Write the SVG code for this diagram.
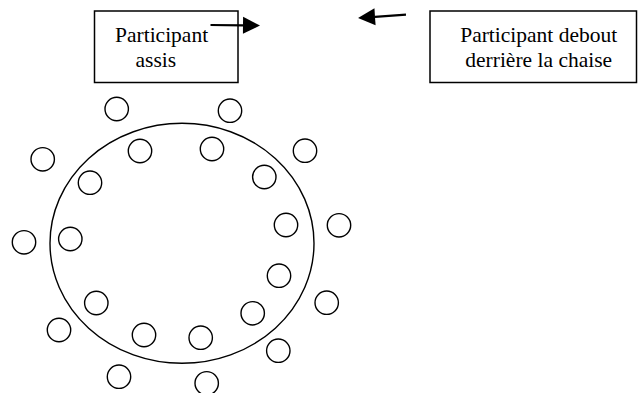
<svg xmlns="http://www.w3.org/2000/svg" width="638" height="393" viewBox="0 0 638 393">
<style>
.box{fill:#fff;stroke:#000;stroke-width:1.5}
text{font-family:"Liberation Serif","Times New Roman",serif;font-size:21.5px;fill:#000}
.c{fill:none;stroke:#000;stroke-width:1.4}
.a{stroke:#000;stroke-width:2.2;fill:none}
</style>
<defs>
<marker id="ah" markerWidth="17" markerHeight="17" refX="0" refY="8.5" orient="auto" markerUnits="userSpaceOnUse" overflow="visible">
<path d="M0,0 L17,8.5 L0,17 Z" fill="#000"/>
</marker>
</defs>
<rect width="638" height="393" fill="#fff"/>
<g id="seated">
<rect class="box" x="94.5" y="11" width="143.5" height="71.5"/>
<text x="115" y="41.5">Participant</text>
<text x="135.5" y="66.5">assis</text>
</g>
<g id="standing">
<rect class="box" x="430" y="11" width="206.5" height="71.5"/>
<text x="538.7" y="41.5" text-anchor="middle">Participant debout</text>
<text x="538.7" y="67" text-anchor="middle">derrière la chaise</text>
</g>
<g id="connectors">
<path class="a" d="M210.5,25 L243,25.3" marker-end="url(#ah)"/>
<path class="a" d="M406,14.7 L375,16.8" marker-end="url(#ah)"/>
</g>
<g id="table">
<ellipse class="c" cx="182" cy="243.3" rx="132" ry="120"/>
</g>
<g id="outer">
<circle class="c" cx="116.7" cy="109" r="11.7"/>
<circle class="c" cx="230" cy="110.7" r="11.7"/>
<circle class="c" cx="42.7" cy="159.3" r="11.7"/>
<circle class="c" cx="305" cy="150.7" r="11.7"/>
<circle class="c" cx="24" cy="242.3" r="11.7"/>
<circle class="c" cx="339" cy="225.3" r="11.7"/>
<circle class="c" cx="326.7" cy="302.7" r="11.7"/>
<circle class="c" cx="59" cy="330" r="11.7"/>
<circle class="c" cx="278.3" cy="350.7" r="11.7"/>
<circle class="c" cx="119" cy="376.7" r="11.7"/>
<circle class="c" cx="206.7" cy="383.3" r="11.7"/>
</g>
<g id="inner">
<circle class="c" cx="140" cy="151" r="11.7"/>
<circle class="c" cx="212" cy="149" r="11.7"/>
<circle class="c" cx="90" cy="182.7" r="11.7"/>
<circle class="c" cx="264.3" cy="177" r="11.7"/>
<circle class="c" cx="286" cy="225" r="11.7"/>
<circle class="c" cx="70.3" cy="239" r="11.7"/>
<circle class="c" cx="279" cy="275.7" r="11.7"/>
<circle class="c" cx="96.3" cy="303" r="11.7"/>
<circle class="c" cx="252.7" cy="313.3" r="11.7"/>
<circle class="c" cx="144" cy="335" r="11.7"/>
<circle class="c" cx="200.7" cy="337.7" r="11.7"/>
</g>
</svg>
